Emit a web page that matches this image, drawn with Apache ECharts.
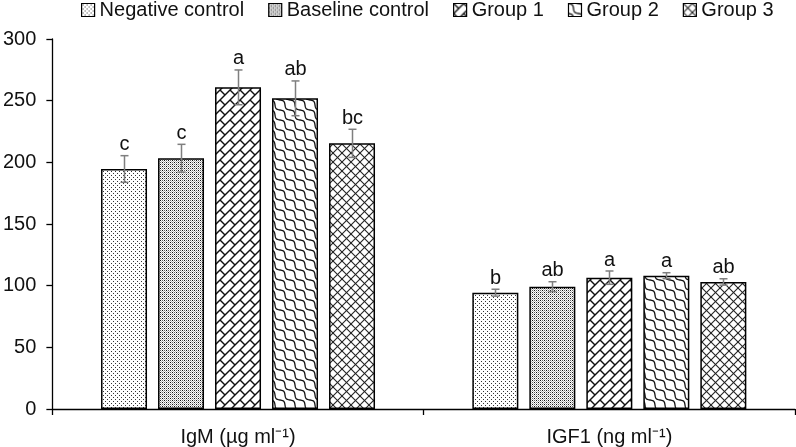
<!DOCTYPE html>
<html>
<head>
<meta charset="utf-8">
<script src="https://cdn.jsdelivr.net/npm/echarts@6/dist/echarts.min.js"></script>
<style>html,body{margin:0;padding:0;background:#fff;}#c{width:796px;height:447px;}</style>
</head>
<body>
<div id="c"></div>
<script>
// ---- data ----
const categories = ['IgM (µg ml⁻¹)', 'IGF1 (ng ml⁻¹)'];
const seriesNames = ['Negative control', 'Baseline control', 'Group 1', 'Group 2', 'Group 3'];
const negValues  = [194.6, 94.3];
const baseValues = [203.3, 99.2];
const g1Values   = [260.8, 106.5];
const g2Values   = [251.9, 108.1];
const g3Values   = [215.4, 103.0];
const negErr  = [10.8, 2.8];
const baseErr = [11.3, 4.0];
const g1Err   = [14.1, 5.4];
const g2Err   = [14.1, 2.4];
const g3Err   = [11.4, 2.6];
const negLetters  = ['c', 'b'];
const baseLetters = ['c', 'ab'];
const g1Letters   = ['a', 'a'];
const g2Letters   = ['ab', 'a'];
const g3Letters   = ['bc', 'ab'];
const yTicks = [0, 50, 100, 150, 200, 250, 300];

const allValues = [negValues, baseValues, g1Values, g2Values, g3Values];
const allErr = [negErr, baseErr, g1Err, g2Err, g3Err];
const allLetters = [negLetters, baseLetters, g1Letters, g2Letters, g3Letters];

// ---- patterns ----
function tile(w, h, draw) {
  const c = document.createElement('canvas');
  c.width = w; c.height = h;
  const g = c.getContext('2d');
  g.fillStyle = '#fff'; g.fillRect(0, 0, w, h);
  draw(g, w, h);
  return c;
}
const patDots = tile(4, 4, g => {
  g.fillStyle = '#333';
  g.fillRect(1, 1, 1, 1); g.fillRect(3, 3, 1, 1);
});
const patSphere = tile(4, 4, g => {
  g.fillStyle = '#111'; g.fillRect(0, 0, 1, 1); g.fillRect(2, 2, 1, 1);
  g.fillStyle = '#666'; g.fillRect(2, 0, 1, 1); g.fillRect(0, 2, 1, 1);
  g.fillStyle = '#bbb'; g.fillRect(1, 1, 1, 1); g.fillRect(3, 3, 1, 1); g.fillRect(1, 3, 1, 1); g.fillRect(3, 1, 1, 1);
});
const B = 10; // brick line spacing (along x)
const patBrick = tile(2 * B, 2 * B, g => {
  g.strokeStyle = '#111'; g.lineWidth = 1.4; g.lineCap = 'butt';
  for (let k = -2; k <= 6; k++) {
    const s = B * k;
    g.beginPath(); g.moveTo(s + 4, -4); g.lineTo(-4, s + 4); g.stroke();
  }
  for (let k = -2; k <= 6; k++) {
    for (let m = -5; m <= 7; m++) {
      const a = B * m;
      g.beginPath(); g.moveTo(a, B * k - a); g.lineTo(a + B / 2, B * k - a + B / 2); g.stroke();
    }
  }
});
const W = 10;
const patWave = tile(2 * W, 2 * W, g => {
  g.strokeStyle = '#111'; g.lineWidth = 1.3;
  const A = 1.7;
  for (let k = -3; k <= 3; k++) {
    const s = W * k;
    g.beginPath();
    let first = true;
    for (let a = -8; a <= 30; a += 0.5) {
      const off = A * Math.sin(2 * Math.PI * a / W) / Math.SQRT2;
      const x = a + off, y = a - s - off;
      if (first) { g.moveTo(x, y); first = false; } else g.lineTo(x, y);
    }
    g.stroke();
  }
});
const D = 9;
const patDiamond = tile(D, D, g => {
  g.strokeStyle = '#222'; g.lineWidth = 1.1;
  for (let k = -2; k <= 3; k++) {
    const s = D * k;
    g.beginPath(); g.moveTo(s + 2, -2); g.lineTo(-2, s + 2); g.stroke();
    g.beginPath(); g.moveTo(s - 2, -2); g.lineTo(s + D + 2, D + 2); g.stroke();
  }
});
const patterns = [patDots, patSphere, patBrick, patWave, patDiamond];

// ---- layout constants ----
const BAR_W = 46, BAR_GAP = 11;
const FONT = '"Liberation Sans", Arial, sans-serif';

const series = [];
seriesNames.forEach((name, i) => {
  series.push({
    name: name,
    type: 'bar',
    data: allValues[i],
    barWidth: BAR_W,
    barGap: (BAR_GAP / BAR_W * 100) + '%',
    itemStyle: {
      color: { image: patterns[i], repeat: 'repeat' },
      borderColor: '#000',
      borderWidth: 1.5
    },
    z: 2
  });
});
seriesNames.forEach((name, i) => {
  const offset = (i - 2) * (BAR_W + BAR_GAP);
  series.push({
    name: name,
    type: 'custom',
    z: 5,
    silent: true,
    data: allValues[i].map((v, ci) => [ci, v]),
    renderItem: function (params, api) {
      const ci = params.dataIndex;
      const v = allValues[i][ci], e = allErr[i][ci];
      const c = api.coord([ci, v]);
      const t = api.coord([ci, v + e]);
      const b = api.coord([ci, v - e]);
      const x = Math.round(c[0] + offset) + 0.5;
      const st = { stroke: '#7f7f7f', lineWidth: 1.5 };
      return {
        type: 'group',
        children: [
          { type: 'line', shape: { x1: x, y1: t[1], x2: x, y2: b[1] }, style: st },
          { type: 'line', shape: { x1: x - 4, y1: t[1], x2: x + 4, y2: t[1] }, style: st },
          { type: 'line', shape: { x1: x - 4, y1: b[1], x2: x + 4, y2: b[1] }, style: st },
          { type: 'text', style: { text: allLetters[i][ci], x: x, y: t[1] - 1, align: 'center', verticalAlign: 'bottom', font: '20px ' + FONT, fill: '#111' } }
        ]
      };
    }
  });
});

const chart = echarts.init(document.getElementById('c'), null, { renderer: 'canvas' });
chart.setOption({
  animation: false,
  backgroundColor: '#fff',
  textStyle: { fontFamily: FONT },
  legend: {
    data: seriesNames,
    left: 81,
    top: 0,
    padding: 0,
    icon: 'rect',
    itemWidth: 13,
    itemHeight: 13,
    itemGap: 24,
    itemStyle: { borderColor: '#000', borderWidth: 1.2 },
    textStyle: { fontSize: 20, color: '#111', fontFamily: FONT }
  },
  grid: { left: 51, right: 1, top: 39, bottom: 38, containLabel: false },
  xAxis: {
    type: 'category',
    data: categories,
    axisLine: { lineStyle: { color: '#000', width: 1.3 } },
    axisTick: { show: true, length: 6, lineStyle: { color: '#000', width: 1.3 } },
    axisLabel: { fontSize: 20, color: '#111', margin: 18, fontFamily: FONT },
    splitLine: { show: false }
  },
  yAxis: {
    type: 'value',
    min: yTicks[0],
    max: yTicks[yTicks.length - 1],
    interval: yTicks[1] - yTicks[0],
    axisLine: { show: true, lineStyle: { color: '#000', width: 1.3 } },
    axisTick: { show: true, length: 6, lineStyle: { color: '#000', width: 1.3 } },
    axisLabel: { fontSize: 20, color: '#111', margin: 16, fontFamily: FONT },
    splitLine: { show: false }
  },
  series: series
});
</script>
</body>
</html>
